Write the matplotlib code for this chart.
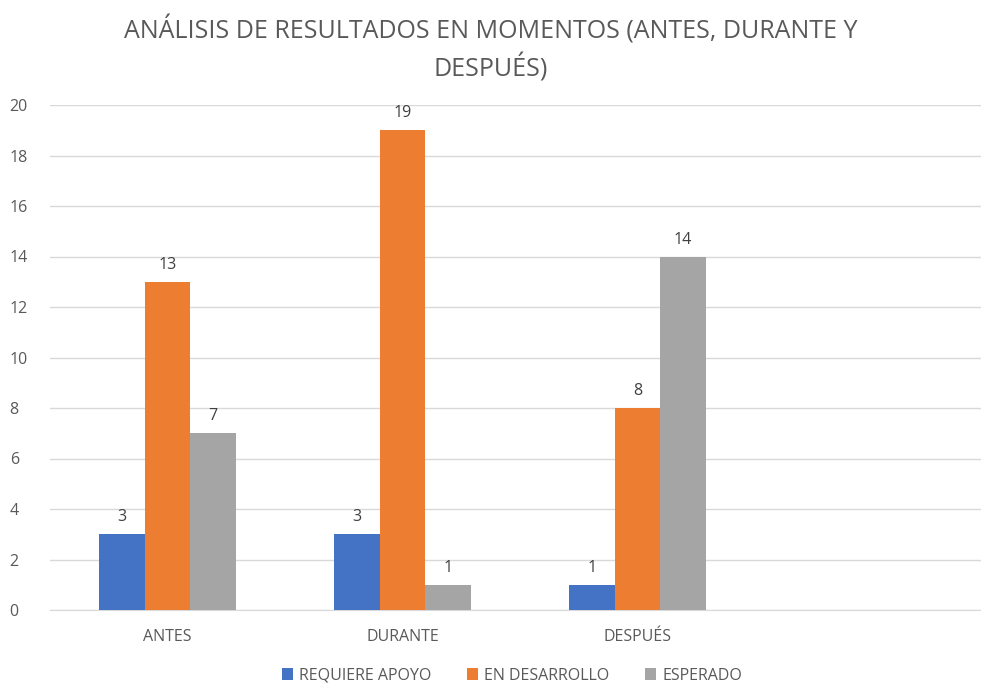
import matplotlib.pyplot as plt
import numpy as np

categories = ["ANTES", "DURANTE", "DESPUÉS", ""]
series_names = ["REQUIERE APOYO", "EN DESARROLLO", "ESPERADO"]
requiere_apoyo = [3, 3, 1]
en_desarrollo = [13, 19, 8]
esperado = [7, 1, 14]
yticks = [0, 2, 4, 6, 8, 10, 12, 14, 16, 18, 20]

colors = ["#4472C4", "#ED7D31", "#A5A5A5"]
text_color = "#595959"

plt.rcParams['font.family'] = ['Open Sans', 'DejaVu Sans']

fig = plt.figure(figsize=(9.81, 6.83), dpi=100)
ax = fig.add_axes([50 / 981, 73 / 683, 931 / 981, 505 / 683])

x = np.arange(len(categories))
width = 0.194
all_series = [requiere_apoyo, en_desarrollo, esperado]
for i, (name, vals) in enumerate(zip(series_names, all_series)):
    pos = x[:len(vals)] + (i - 1) * width
    bars = ax.bar(pos, vals, width, color=colors[i], label=name, zorder=3)
    for b, v in zip(bars, vals):
        ax.text(b.get_x() + b.get_width() / 2, v + 0.35, str(v),
                ha="center", va="bottom", fontsize=11.5, color="#404040")

ax.set_xlim(-0.5, -0.5 + 931 / 235)
ax.set_ylim(0, 20)
ax.set_yticks(yticks)
ax.set_xticks(x)
ax.set_xticklabels(categories)
ax.yaxis.grid(True, color="#D9D9D9", linewidth=1, zorder=0)
ax.tick_params(axis="both", length=0, colors=text_color, labelsize=11.5)
ax.tick_params(axis="x", pad=14)
ax.tick_params(axis="y", pad=29)
for lab in ax.get_yticklabels():
    lab.set_horizontalalignment("left")
for s in ["top", "right", "left"]:
    ax.spines[s].set_visible(False)
ax.spines["bottom"].set_color("#D9D9D9")

fig.text(0.5, 0.978, "ANÁLISIS DE RESULTADOS EN MOMENTOS (ANTES, DURANTE Y\nDESPUÉS)",
         ha="center", va="top", fontsize=18, color=text_color,
         linespacing=1.4)

fig.legend(loc="lower center", bbox_to_anchor=(0.522, -0.022), ncol=3, frameon=False,
           fontsize=11.5, labelcolor=text_color, handlelength=0.7, handleheight=0.7,
           handletextpad=0.4, columnspacing=2.2)

fig.savefig("out.png", dpi=100)
